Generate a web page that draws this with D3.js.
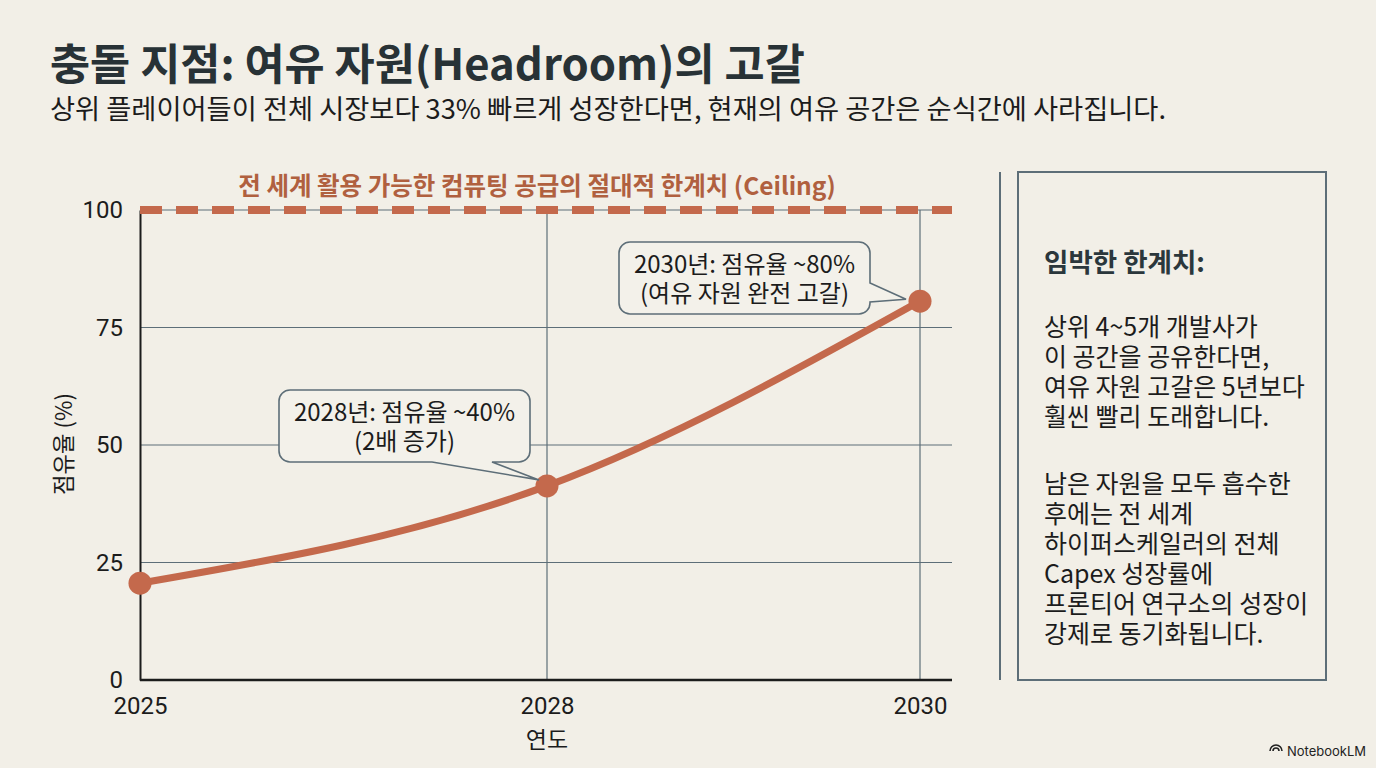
<!DOCTYPE html>
<html><head><meta charset="utf-8">
<script src="https://cdn.jsdelivr.net/npm/d3@7"></script>
<style>
html,body{margin:0;padding:0;background:#f2efe7;}
svg{display:block;font-family:"Noto Sans CJK KR","Noto Sans",sans-serif;}
</style></head>
<body>
<script>
const years = [2025, 2028, 2030];
const yearLabels = ["2025", "2028", "2030"];
const shareValues = [20.6, 41.3, 80.6];
const yTicks = [0, 25, 50, 75, 100];
const ceilingValue = 100;
const titleText = "충돌 지점: 여유 자원(Headroom)의 고갈";
const subtitleText = "상위 플레이어들이 전체 시장보다 33% 빠르게 성장한다면, 현재의 여유 공간은 순식간에 사라집니다.";
const ceilingLabel = "전 세계 활용 가능한 컴퓨팅 공급의 절대적 한계치 (Ceiling)";
const annotations = [
  {year: 2028, lines: ["2028년: 점유율 ~40%", "(2배 증가)"]},
  {year: 2030, lines: ["2030년: 점유율 ~80%", "(여유 자원 완전 고갈)"]}
];
const sideHeading = "임박한 한계치:";
const sideParagraphs = [
  ["상위 4~5개 개발사가", "이 공간을 공유한다면,", "여유 자원 고갈은 5년보다", "훨씬 빨리 도래합니다."],
  ["남은 자원을 모두 흡수한", "후에는 전 세계", "하이퍼스케일러의 전체", "Capex 성장률에", "프론티어 연구소의 성장이", "강제로 동기화됩니다."]
];

const W = 1376, H = 768;
const svg = d3.select("body").append("svg").attr("width", W).attr("height", H);
svg.append("rect").attr("width", W).attr("height", H).attr("fill", "#f2efe7");

const accent = "#c4694c", grid = "#5d6e78", ink = "#1c1c1c";
const tickFont = "Roboto,'Liberation Sans',sans-serif";

function fitWidth(sel, target) {
  const w = sel.node().getComputedTextLength();
  sel.attr("font-size", (+sel.attr("font-size")) * target / w);
}

// Title
fitWidth(svg.append("text").attr("x", 50).attr("y", 80).text(titleText)
  .attr("font-size", 41).attr("font-weight", 700).attr("fill", "#283236"), 755);
fitWidth(svg.append("text").attr("x", 50).attr("y", 119).text(subtitleText)
  .attr("font-size", 24).attr("fill", ink), 1117);

// Scales
const x = d3.scaleLinear().domain(years).range([140, 547, 920]);
const y = d3.scaleLinear().domain([0, 100]).range([680, 210]);
const xRight = 952;

const g = svg.append("g");
g.selectAll(".hg").data(yTicks.filter(d => d > 0)).join("line")
  .attr("x1", 140).attr("x2", xRight).attr("y1", d => y(d)).attr("y2", d => y(d))
  .attr("stroke", grid).attr("stroke-width", 1.2);
g.selectAll(".vg").data(years.slice(1)).join("line")
  .attr("x1", d => x(d)).attr("x2", d => x(d)).attr("y1", y(100)).attr("y2", y(0))
  .attr("stroke", grid).attr("stroke-width", 1.2);

// axes
const yAxis = d3.axisLeft(y).tickValues(yTicks).tickSize(0).tickPadding(17);
const ya = g.append("g").attr("transform", "translate(140,0)").call(yAxis);
ya.select(".domain").attr("stroke", ink).attr("stroke-width", 2);
ya.selectAll("text").attr("font-size", 24).attr("fill", ink).attr("font-family", tickFont);

const xAxis = d3.axisBottom(x).tickValues(years).tickFormat((d, i) => yearLabels[i]).tickSize(0).tickPadding(17);
const xa = g.append("g").attr("transform", `translate(0,${y(0)})`).call(xAxis);
xa.select(".domain").remove();
xa.append("line").attr("x1", 140).attr("x2", xRight).attr("stroke", ink).attr("stroke-width", 2.5);
xa.selectAll("text").attr("font-size", 24).attr("fill", ink).attr("font-family", tickFont);

// axis titles
fitWidth(svg.append("text").attr("transform", "translate(72,444) rotate(-90)")
  .attr("text-anchor", "middle").attr("font-size", 23).attr("fill", ink).text("점유율 (%)"), 102);
svg.append("text").attr("x", x(2028)).attr("y", 748).attr("text-anchor", "middle")
  .attr("font-size", 23).attr("fill", ink).text("연도");

// ceiling
g.append("line").attr("x1", 140).attr("x2", xRight).attr("y1", y(ceilingValue)).attr("y2", y(ceilingValue))
  .attr("stroke", accent).attr("stroke-width", 8).attr("stroke-dasharray", "22,14");
fitWidth(svg.append("text").attr("x", 537).attr("y", 195).attr("text-anchor", "middle")
  .attr("font-size", 24).attr("font-weight", 700).attr("fill", "#b0603f").text(ceilingLabel), 598);

// line
const pts = years.map((yr, i) => [x(yr), y(shareValues[i])]);
g.append("path").attr("d", d3.line().curve(d3.curveMonotoneX)(pts))
  .attr("fill", "none").attr("stroke", accent).attr("stroke-width", 7).attr("stroke-linecap", "round");
g.selectAll(".dot").data(pts).join("circle")
  .attr("cx", d => d[0]).attr("cy", d => d[1]).attr("r", 11.5).attr("fill", accent);

// annotations
function callout(box, tail, tip, lines) {
  const [bx, by, bw, bh] = box, r = 11;
  const p = d3.path();
  if (tail.side === "bottom") {
    p.moveTo(bx + r, by);
    p.lineTo(bx + bw - r, by); p.arcTo(bx + bw, by, bx + bw, by + r, r);
    p.lineTo(bx + bw, by + bh - r); p.arcTo(bx + bw, by + bh, bx + bw - r, by + bh, r);
    p.lineTo(tail.a2, by + bh); p.lineTo(tip[0], tip[1]); p.lineTo(tail.a1, by + bh);
    p.lineTo(bx + r, by + bh); p.arcTo(bx, by + bh, bx, by + bh - r, r);
    p.lineTo(bx, by + r); p.arcTo(bx, by, bx + r, by, r);
  } else {
    p.moveTo(bx + r, by);
    p.lineTo(bx + bw - r, by); p.arcTo(bx + bw, by, bx + bw, by + r, r);
    p.lineTo(bx + bw, tail.a1); p.lineTo(tip[0], tip[1]); p.lineTo(bx + bw, tail.a2);
    p.lineTo(bx + bw, by + bh - r); p.arcTo(bx + bw, by + bh, bx + bw - r, by + bh, r);
    p.lineTo(bx + r, by + bh); p.arcTo(bx, by + bh, bx, by + bh - r, r);
    p.lineTo(bx, by + r); p.arcTo(bx, by, bx + r, by, r);
  }
  p.closePath();
  svg.append("path").attr("d", p.toString()).attr("fill", "#f3f1ea")
    .attr("stroke", grid).attr("stroke-width", 1.6);
  const t = svg.append("text").attr("text-anchor", "middle").attr("font-size", 24).attr("fill", ink);
  lines.forEach((l, i) => t.append("tspan").attr("x", bx + bw / 2).attr("y", by + 31 + i * 29).text(l));
  return t;
}
const a1 = annotations[0], a2 = annotations[1];
const i1 = years.indexOf(a1.year), i2 = years.indexOf(a2.year);
callout([279, 390, 251, 72], {side: "bottom", a1: 432, a2: 492},
  [x(a1.year) - 8, y(shareValues[i1]) - 6], a1.lines);
callout([619, 242, 251, 72], {side: "right", a1: 283, a2: 302},
  [x(a2.year) - 14, y(shareValues[i2]) - 2], a2.lines);

// divider and side panel
svg.append("line").attr("x1", 1000).attr("x2", 1000).attr("y1", 172).attr("y2", 680)
  .attr("stroke", grid).attr("stroke-width", 2);
svg.append("rect").attr("x", 1018).attr("y", 172).attr("width", 308).attr("height", 508)
  .attr("fill", "none").attr("stroke", grid).attr("stroke-width", 2);
fitWidth(svg.append("text").attr("x", 1044).attr("y", 272).attr("font-size", 26).attr("font-weight", 700)
  .attr("fill", "#2b373c").text(sideHeading), 161);
const body = svg.append("text").attr("font-size", 25).attr("fill", ink);
let ly = 336;
sideParagraphs.forEach((para) => {
  para.forEach(l => { body.append("tspan").attr("x", 1044).attr("y", ly).text(l); ly += 30; });
  ly += 37;
});

// NotebookLM mark
const logo = svg.append("g").attr("transform", "translate(1270,752)");
logo.append("path").attr("d", "M0,0 A6,6 0 0 1 12,0 M3,0 A3,3 0 0 1 9,0")
  .attr("fill", "none").attr("stroke", "#222").attr("stroke-width", 1.6).attr("transform", "translate(0,-1)");
svg.append("text").attr("x", 1287).attr("y", 756).attr("font-size", 13).attr("font-family", "Inter,Roboto,sans-serif")
  .attr("fill", "#222").text("NotebookLM");
</script>
</body></html>
